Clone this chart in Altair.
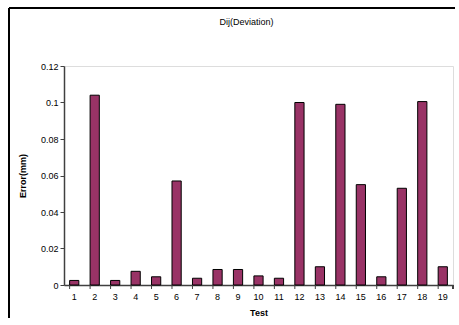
import altair as alt
import pandas as pd

tests = [str(i) for i in range(1, 20)]
errors = [0.0025, 0.104, 0.0025, 0.0075, 0.0045, 0.057, 0.0037, 0.0085, 0.0085, 0.005,
          0.0037, 0.100, 0.010, 0.099, 0.055, 0.0045, 0.053, 0.1005, 0.010]

df = pd.DataFrame({"Test": tests, "Error": errors})

FONT = "Liberation Sans"

xscale = alt.Scale(paddingInner=0.55, paddingOuter=0.275)
yscale = alt.Scale(domain=[0, 0.12])

xaxis = alt.Axis(title="Test", labelAngle=0, ticks=False,
                 domainColor="#404040", domainWidth=1.5,
                 labelFontSize=9, labelFont=FONT, labelColor="#000000", labelPadding=7,
                 titleFont=FONT, titleFontSize=9, titleFontWeight="bold",
                 titleAnchor="middle", titlePadding=7, titleColor="#000000")

bars = alt.Chart(df).mark_bar(color="#993366", stroke="#000000", strokeWidth=1).encode(
    x=alt.X("Test:O", sort=tests, scale=xscale, axis=xaxis),
    y=alt.Y("Error:Q", scale=yscale,
            axis=alt.Axis(title="Error(mm)",
                          values=[0, 0.02, 0.04, 0.06, 0.08, 0.1, 0.12],
                          format=".2~f", grid=False, tickSize=4, tickColor="#404040",
                          domainColor="#404040", domainWidth=1.5, labelOverlap=False,
                          labelFontSize=9, labelFont=FONT, labelColor="#000000", labelPadding=2,
                          titleFont=FONT, titleFontSize=9, titleFontWeight="bold",
                          titleColor="#000000", titlePadding=13)),
)

# x tick marks at the category boundaries (Excel style)
xticks = alt.Chart(df).mark_rule(color="#404040", strokeWidth=1).encode(
    x=alt.X("Test:O", sort=tests, scale=xscale, bandPosition=0, axis=xaxis),
    y=alt.value(219), y2=alt.value(223),
)
xtick_end = alt.Chart(df).mark_rule(color="#404040", strokeWidth=1).encode(
    x=alt.value(389), y=alt.value(219), y2=alt.value(223))

top_border = alt.Chart(df).mark_rule(color="#000000", strokeWidth=2).encode(
    x=alt.value(-55), x2=alt.value(391), y=alt.value(-58))
left_border = alt.Chart(df).mark_rule(color="#000000", strokeWidth=2).encode(
    x=alt.value(-55), x2=alt.value(-55), y=alt.value(-58), y2=alt.value(252))

chart = alt.layer(bars, xticks, xtick_end, top_border, left_border).properties(
    width=389, height=219,
    autosize=alt.AutoSizeParams(type="none"),
    padding={"left": 64, "top": 66, "right": 4, "bottom": 34},
    title=alt.TitleParams("Dij(Deviation)", font=FONT, fontSize=9, fontWeight="normal",
                          color="#000000", anchor="middle", dx=-12, offset=-20),
).configure_view(stroke="#a6a6a6", strokeWidth=1.5).configure(background="white")

chart.save("out.html", embed_options={"renderer": "svg", "actions": False})
